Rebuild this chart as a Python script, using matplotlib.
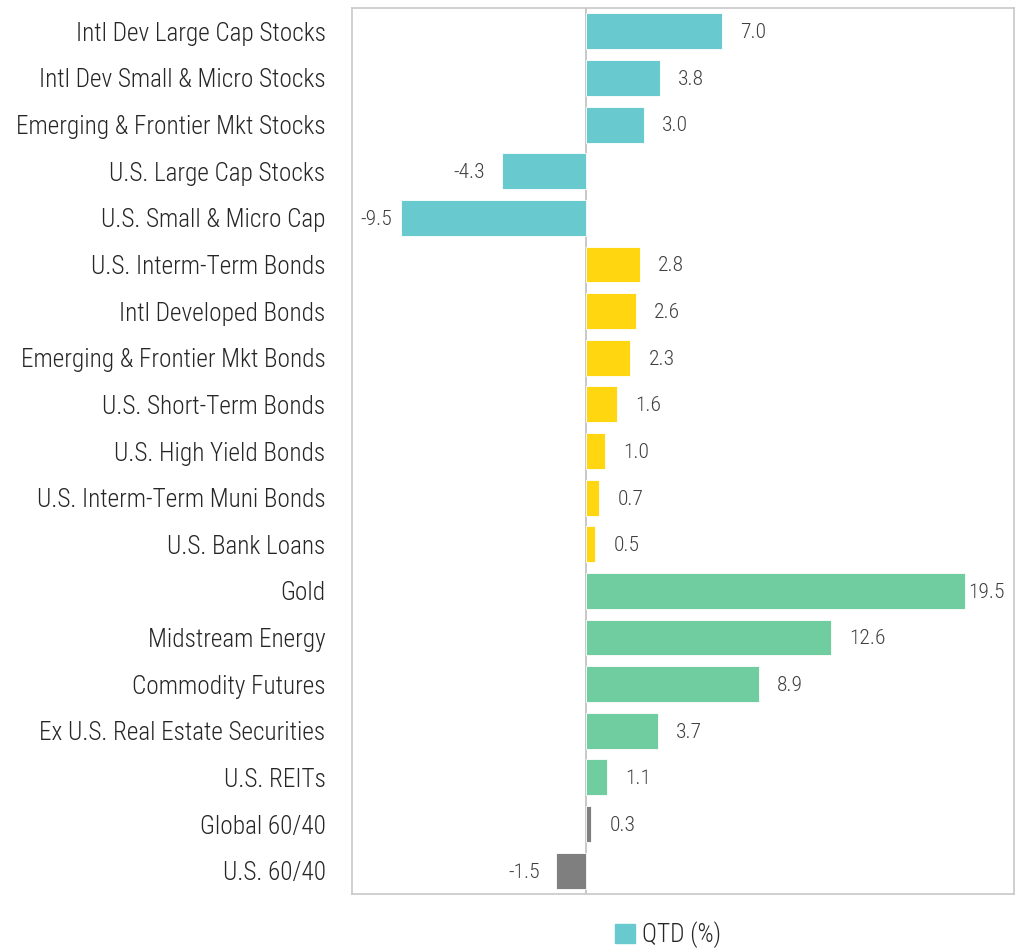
import matplotlib
matplotlib.use("Agg")
import matplotlib.pyplot as plt
from matplotlib import font_manager
from matplotlib.patches import Patch

# find a condensed face if any
cands = []
for f in font_manager.fontManager.ttflist:
    st = str(f.stretch)
    if 'condensed' in st or 'Condensed' in f.name or 'Narrow' in f.name:
        cands.append((f.name, st, f.weight, f.style))
pref = ["Roboto Condensed", "Liberation Sans Narrow", "Roboto", "DejaVu Sans", "Open Sans", "Noto Sans"]
fam, stretch, weight = "DejaVu Sans", "normal", "normal"
for p in pref:
    hit = [c for c in cands if c[0] == p and c[3] == 'normal']
    if hit:
        fam, stretch = p, hit[0][1]
        weights = [c[2] for c in hit]
        if 300 in weights or 'light' in weights:
            weight = 'light'
        break
plt.rcParams['font.family'] = [fam, 'DejaVu Sans']
plt.rcParams['font.stretch'] = stretch
plt.rcParams['font.weight'] = weight

categories = ["Intl Dev Large Cap Stocks", "Intl Dev Small & Micro Stocks",
              "Emerging & Frontier Mkt Stocks", "U.S. Large Cap Stocks",
              "U.S. Small & Micro Cap", "U.S. Interm-Term Bonds",
              "Intl Developed Bonds", "Emerging & Frontier Mkt Bonds",
              "U.S. Short-Term Bonds", "U.S. High Yield Bonds",
              "U.S. Interm-Term Muni Bonds", "U.S. Bank Loans", "Gold",
              "Midstream Energy", "Commodity Futures",
              "Ex U.S. Real Estate Securities", "U.S. REITs",
              "Global 60/40", "U.S. 60/40"]
values = [7.0, 3.8, 3.0, -4.3, -9.5, 2.8, 2.6, 2.3, 1.6, 1.0, 0.7, 0.5,
          19.5, 12.6, 8.9, 3.7, 1.1, 0.3, -1.5]
groups = ["stock"] * 5 + ["bond"] * 7 + ["real"] * 5 + ["blend"] * 2
group_colors = {"stock": "#68C9CF", "bond": "#FFD60F", "real": "#6FCD9F", "blend": "#7F7F7F"}

fig = plt.figure(figsize=(10.18, 9.49), dpi=100)
renderer = fig.canvas.get_renderer()
# fit label font size so the first label is ~250 px wide
probe = fig.text(0, 0, categories[0], fontsize=10)
w10 = probe.get_window_extent(renderer).width
probe.remove()
lab_fs = min(19.0, 10 * 250 / w10)
val_fs = lab_fs * 0.85

ax = fig.add_axes([352/1018, 1-894/949, (1014-352)/1018, (894-8)/949])

y = list(range(len(categories)))
colors = [group_colors[g] for g in groups]
ax.barh(y, values, height=0.77, color=colors, edgecolor='white', linewidth=0.6, zorder=2)
ax.set_xlim(-12, 22)
ax.set_ylim(len(categories) - 0.5, -0.5)
ax.axvline(0, color='#BFBFBF', lw=1.2, zorder=1)
ax.set_xticks([])
ax.set_yticks(y)
ax.set_yticklabels(categories, fontsize=lab_fs, color='#262626')
ax.tick_params(axis='y', length=0, pad=19)
for s in ax.spines.values():
    s.set_color('#C8C8C8')
    s.set_linewidth(1.2)

xmin_px = ax.transData.transform((-12, 0))[0]
xmax_px = ax.transData.transform((22, 0))[0]
for yi, v in zip(y, values):
    if v >= 0:
        t = ax.annotate(f"{v:.1f}", (v, yi), xytext=(13, -1), textcoords='offset points',
                        ha='left', va='center', fontsize=val_fs, color='#404040')
        if t.get_window_extent(renderer).x1 > xmax_px - 4:
            t.set_position((2, -1))
    else:
        t = ax.annotate(f"{v:.1f}", (v, yi), xytext=(-12, -1), textcoords='offset points',
                        ha='right', va='center', fontsize=val_fs, color='#404040')
        if t.get_window_extent(renderer).x0 < xmin_px + 10:
            t.set_position((-6, -1))

fig.legend(handles=[Patch(color=group_colors["stock"], label="QTD (%)")],
           loc='center', bbox_to_anchor=(668/1018, 1-935/949), frameon=False,
           fontsize=lab_fs, handlelength=0.8, handleheight=0.8, handletextpad=0.3,
           labelcolor='#262626')

fig.savefig("out.png", dpi=100, facecolor='white')
